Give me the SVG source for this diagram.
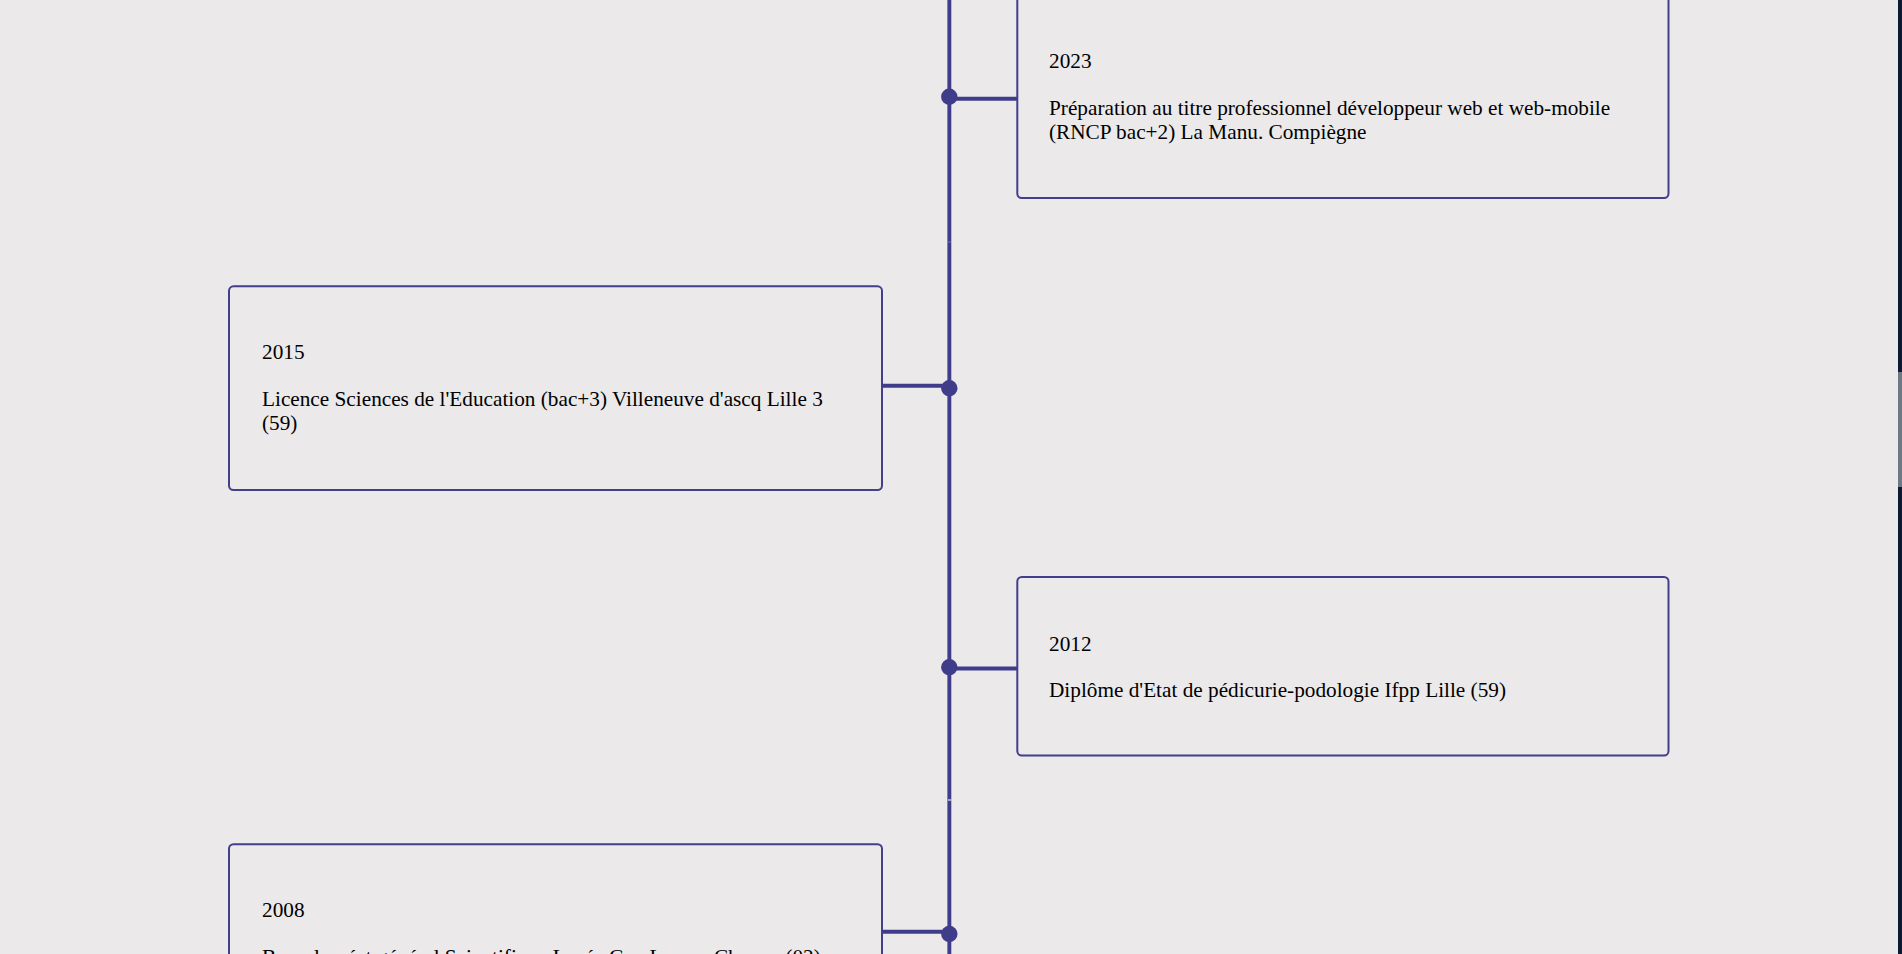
<svg xmlns="http://www.w3.org/2000/svg" width="1902" height="954" viewBox="0 0 1902 954">
<style>
.bg{fill:#ebe9ea}
.card{fill:none;stroke:#423f8c;stroke-width:2}
.txt{font-family:"Liberation Serif","Times New Roman",serif;font-size:21.25px;fill:#000}
.conn{stroke:#3f3d8a;stroke-width:4;fill:none}
.dot{fill:#3f3d8a}
.spine{fill:#3f3d8a}
</style>
<rect class="bg" x="0" y="0" width="1902" height="954"/>
<g id="connectors">
  <rect class="spine" x="947.4" y="0" width="3.9" height="954"/>
  <rect x="947.9" y="241.6" width="3.4" height="0.8" fill="#ffffff" opacity="0.35"/>
  <rect x="947.9" y="799.5" width="3.4" height="1" fill="#ffffff"/>
  <line class="conn" x1="949" y1="98.7" x2="1017" y2="98.7"/>
  <circle class="dot" cx="949.3" cy="96.7" r="8.2"/>
  <line class="conn" x1="882" y1="385.8" x2="949" y2="385.8"/>
  <circle class="dot" cx="949.3" cy="388.3" r="8.2"/>
  <line class="conn" x1="949" y1="668.6" x2="1017" y2="668.6"/>
  <circle class="dot" cx="949.3" cy="667.3" r="8.2"/>
  <line class="conn" x1="882" y1="931.7" x2="949" y2="931.7"/>
  <circle class="dot" cx="949.3" cy="934" r="8.2"/>
</g>
<g id="node-2023">
  <rect class="card" x="1017.3" y="-5.2" width="651.2" height="203.2" rx="4.5"/>
  <text class="txt" x="1049" y="67.5">2023</text>
  <text class="txt" x="1049" y="114.5">Préparation au titre professionnel développeur web et web-mobile</text>
  <text class="txt" x="1049" y="138.5">(RNCP bac+2) La Manu. Compiègne</text>
</g>
<g id="node-2015">
  <rect class="card" x="229" y="286.3" width="653" height="203.7" rx="4.5"/>
  <text class="txt" x="262" y="359.3">2015</text>
  <text class="txt" x="262" y="405.5">Licence Sciences de l'Education (bac+3) Villeneuve d'ascq Lille 3</text>
  <text class="txt" x="262" y="429.5">(59)</text>
</g>
<g id="node-2012">
  <rect class="card" x="1017.3" y="577" width="651.2" height="178.5" rx="4.5"/>
  <text class="txt" x="1049" y="650.5">2012</text>
  <text class="txt" x="1049" y="696.5">Diplôme d'Etat de pédicurie-podologie Ifpp Lille (59)</text>
</g>
<g id="node-2008">
  <rect class="card" x="229" y="844.2" width="653" height="178.3" rx="4.5"/>
  <text class="txt" x="262" y="917.3">2008</text>
  <text class="txt" x="262" y="963.5">Baccalauréat général Scientifique Lycée Gay Lussac Chauny (02)</text>
</g>
<rect x="1898" y="0" width="4" height="954" fill="#0c1b33"/>
<rect x="1898" y="372" width="4" height="115" fill="#6b7a85"/>
</svg>
